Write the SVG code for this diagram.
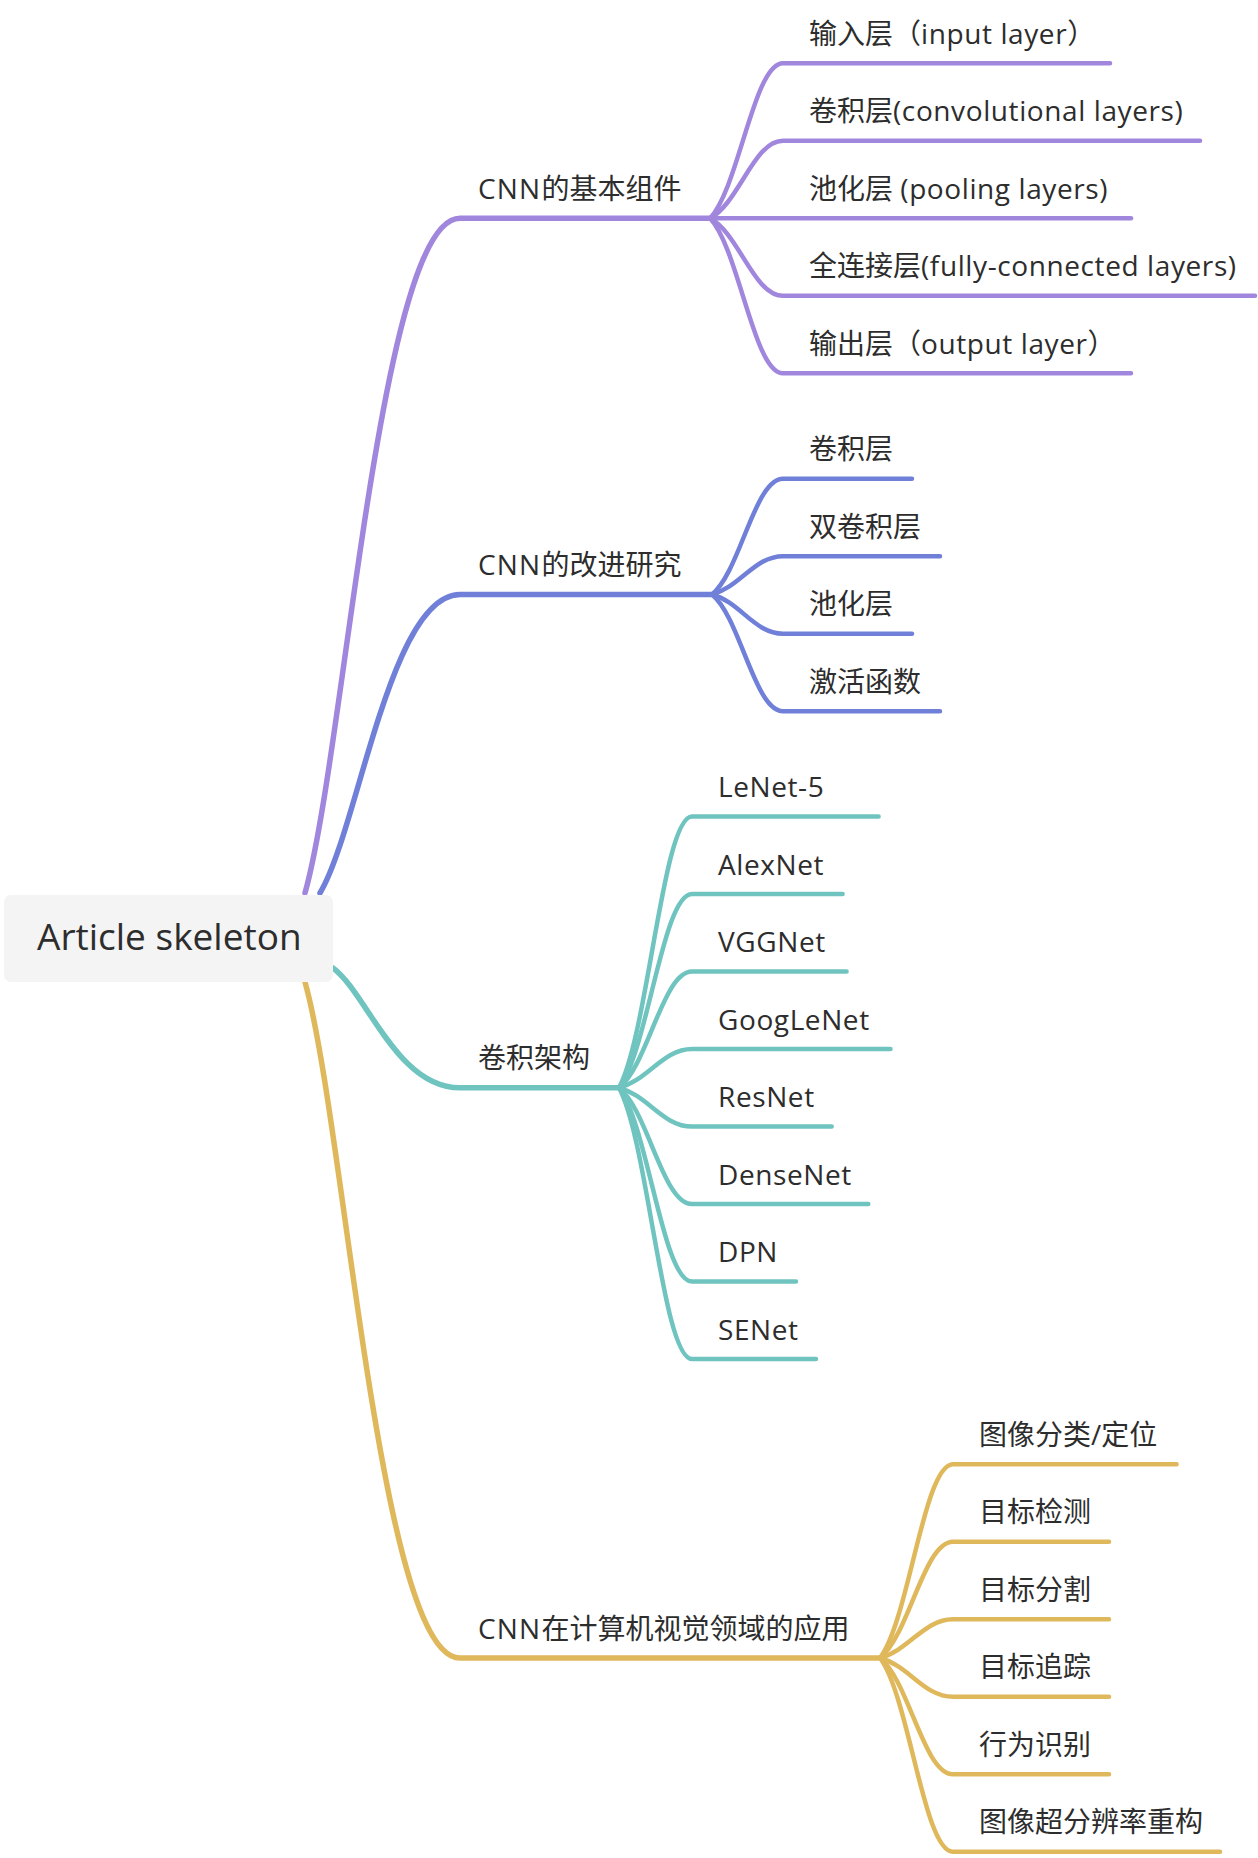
<svg xmlns="http://www.w3.org/2000/svg" width="1258" height="1858" viewBox="0 0 1258 1858">
<style>
text{font-family:'Open Sans','Noto Sans CJK SC',sans-serif;fill:#2d2d2d;font-size:28px}
.root{font-size:37px}
.l{letter-spacing:0.6px}
.cn{letter-spacing:1.2px}
path{fill:none;stroke-linecap:round;stroke-linejoin:round}
.m{stroke-width:5.5}
.c{stroke-width:4.5}
.p{stroke:#A186DD}
.b{stroke:#7080D9}
.t{stroke:#70C4C0}
.y{stroke:#E0B85C}
</style>
<rect width="1258" height="1858" fill="#ffffff"/>
<g id="connectors">
<path class="m p" d="M305,893 C345,751 380,218.3 460,218.3 L712,218.3"/>
<path class="m b" d="M320,893 C358,830 390,594.5 460,594.5 L714,594.5"/>
<path class="m t" d="M333,968 C367,993 396.5,1087.8 460,1087.8 L621,1087.8"/>
<path class="m y" d="M305,982 C345,1125 380,1658 460,1658 L882,1658"/>
<path class="c p" d="M710,218.3 C739.2,187.3 753.8,63.3 783,63.3 L1110,63.3"/>
<path class="c p" d="M710,218.3 C739.2,202.8 753.8,140.8 783,140.8 L1200,140.8"/>
<path class="c p" d="M710,218.3 L1131,218.3"/>
<path class="c p" d="M710,218.3 C739.2,233.8 753.8,295.8 783,295.8 L1255,295.8"/>
<path class="c p" d="M710,218.3 C739.2,249.3 753.8,373.3 783,373.3 L1131,373.3"/>
<path class="c b" d="M712,594.5 C740.4,571.3 754.6,478.7 783,478.7 L912,478.7"/>
<path class="c b" d="M712,594.5 C740.4,586.8 754.6,556.2 783,556.2 L940,556.2"/>
<path class="c b" d="M712,594.5 C740.4,602.3 754.6,633.7 783,633.7 L912,633.7"/>
<path class="c b" d="M712,594.5 C740.4,617.8 754.6,711.2 783,711.2 L940,711.2"/>
<path class="c t" d="M619,1087.8 C648.2,1033.6 662.8,816.6 692,816.6 L878.6,816.6"/>
<path class="c t" d="M619,1087.8 C648.2,1049.1 662.8,894.1 692,894.1 L842.6,894.1"/>
<path class="c t" d="M619,1087.8 C648.2,1064.6 662.8,971.6 692,971.6 L846.6,971.6"/>
<path class="c t" d="M619,1087.8 C648.2,1080.1 662.8,1049.1 692,1049.1 L890.5,1049.1"/>
<path class="c t" d="M619,1087.8 C648.2,1095.6 662.8,1126.6 692,1126.6 L831.7,1126.6"/>
<path class="c t" d="M619,1087.8 C648.2,1111.1 662.8,1204.1 692,1204.1 L868.3,1204.1"/>
<path class="c t" d="M619,1087.8 C648.2,1126.6 662.8,1281.6 692,1281.6 L796,1281.6"/>
<path class="c t" d="M619,1087.8 C648.2,1142.1 662.8,1359.1 692,1359.1 L816,1359.1"/>
<path class="c y" d="M880,1658 C909.2,1619.3 923.8,1464.3 953,1464.3 L1176.6,1464.3"/>
<path class="c y" d="M880,1658 C909.2,1634.8 923.8,1541.8 953,1541.8 L1109,1541.8"/>
<path class="c y" d="M880,1658 C909.2,1650.3 923.8,1619.3 953,1619.3 L1109,1619.3"/>
<path class="c y" d="M880,1658 C909.2,1665.8 923.8,1696.8 953,1696.8 L1109,1696.8"/>
<path class="c y" d="M880,1658 C909.2,1681.3 923.8,1774.3 953,1774.3 L1109,1774.3"/>
<path class="c y" d="M880,1658 C909.2,1696.8 923.8,1851.8 953,1851.8 L1220,1851.8"/>
</g>
<g id="root"><rect x="4" y="895" width="329" height="87" rx="7" fill="#F4F4F4"/><text class="root" x="37" y="950">Article skeleton</text></g>
<g id="n1"><text x="478" y="198.8"><tspan class="cn">CNN</tspan>的基本组件</text></g>
<g id="n1-1"><text x="809" y="43.8">输入层（<tspan class="l">input layer</tspan>）</text></g>
<g id="n1-2"><text x="809" y="121.3">卷积层<tspan class="l">(convolutional layers)</tspan></text></g>
<g id="n1-3"><text x="809" y="198.8">池化层 <tspan class="l">(pooling layers)</tspan></text></g>
<g id="n1-4"><text x="809" y="276.3">全连接层<tspan class="l">(fully-connected layers)</tspan></text></g>
<g id="n1-5"><text x="809" y="353.8">输出层（<tspan class="l">output layer</tspan>）</text></g>
<g id="n2"><text x="478" y="575"><tspan class="cn">CNN</tspan>的改进研究</text></g>
<g id="n2-1"><text x="809" y="459.2">卷积层</text></g>
<g id="n2-2"><text x="809" y="536.7">双卷积层</text></g>
<g id="n2-3"><text x="809" y="614.2">池化层</text></g>
<g id="n2-4"><text x="809" y="691.7">激活函数</text></g>
<g id="n3"><text x="478" y="1068.3">卷积架构</text></g>
<g id="n3-1"><text class="l" x="718" y="797.1">LeNet-5</text></g>
<g id="n3-2"><text class="l" x="718" y="874.6">AlexNet</text></g>
<g id="n3-3"><text class="l" x="718" y="952.1">VGGNet</text></g>
<g id="n3-4"><text class="l" x="718" y="1029.6">GoogLeNet</text></g>
<g id="n3-5"><text class="l" x="718" y="1107.1">ResNet</text></g>
<g id="n3-6"><text class="l" x="718" y="1184.6">DenseNet</text></g>
<g id="n3-7"><text class="l" x="718" y="1262.1">DPN</text></g>
<g id="n3-8"><text class="l" x="718" y="1339.6">SENet</text></g>
<g id="n4"><text x="478" y="1638.5"><tspan class="cn">CNN</tspan>在计算机视觉领域的应用</text></g>
<g id="n4-1"><text x="979" y="1444.8">图像分类/定位</text></g>
<g id="n4-2"><text x="979" y="1522.3">目标检测</text></g>
<g id="n4-3"><text x="979" y="1599.8">目标分割</text></g>
<g id="n4-4"><text x="979" y="1677.3">目标追踪</text></g>
<g id="n4-5"><text x="979" y="1754.8">行为识别</text></g>
<g id="n4-6"><text x="979" y="1832.3">图像超分辨率重构</text></g>
</svg>
